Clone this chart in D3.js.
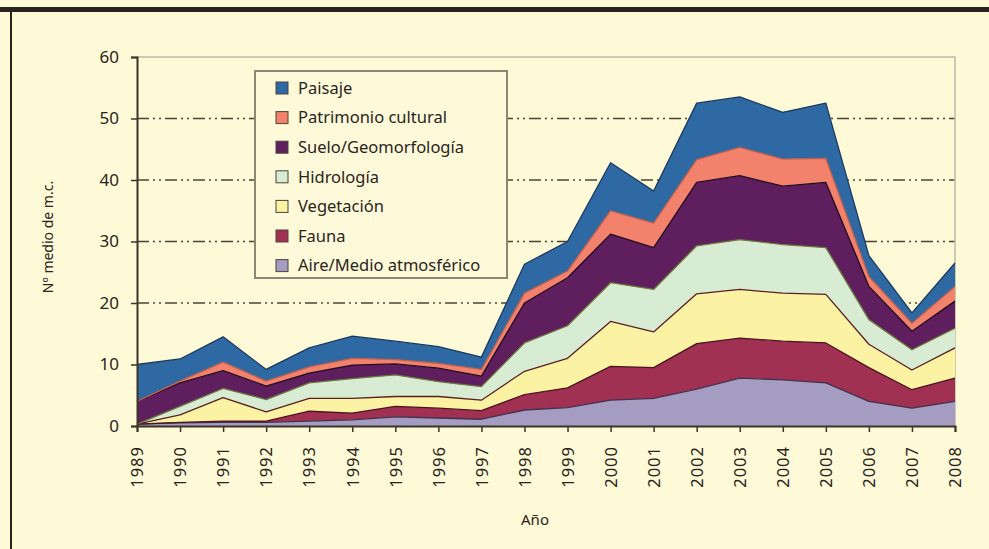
<!DOCTYPE html>
<html>
<head>
<meta charset="utf-8">
<script src="https://cdn.jsdelivr.net/npm/d3@7"></script>
<style>
  html, body { margin: 0; padding: 0; background: #fef9d6; }
  svg { display: block; font-family: "Noto Sans", sans-serif; }
</style>
</head>
<body>
<svg id="chart" width="989" height="549"></svg>
<script>
const years = [1989, 1990, 1991, 1992, 1993, 1994, 1995, 1996, 1997, 1998,
               1999, 2000, 2001, 2002, 2003, 2004, 2005, 2006, 2007, 2008];

// values per layer (bottom to top of the stack)
const aire       = [0.3, 0.5, 0.6, 0.6, 0.8, 1.0, 1.5, 1.3, 1.1, 2.6, 3.0, 4.2, 4.5, 6.0, 7.8, 7.5, 7.0, 4.0, 2.9, 4.0];
const fauna      = [0.0, 0.1, 0.2, 0.2, 1.6, 1.1, 1.7, 1.6, 1.4, 2.5, 3.2, 5.5, 5.0, 7.4, 6.5, 6.3, 6.5, 5.5, 3.0, 3.8];
const vegetacion = [0.0, 1.2, 3.8, 1.5, 2.1, 2.4, 1.6, 1.9, 1.7, 3.8, 4.8, 7.3, 5.8, 8.1, 7.9, 7.8, 7.9, 3.8, 3.2, 4.9];
const hidrologia = [0.0, 1.4, 1.5, 2.0, 2.5, 3.2, 3.5, 2.4, 2.2, 4.6, 5.3, 6.3, 6.9, 7.8, 8.1, 7.9, 7.6, 4.0, 3.3, 3.2];
const suelo      = [3.7, 3.8, 2.9, 2.2, 1.6, 2.2, 1.8, 2.2, 1.7, 6.5, 7.8, 7.9, 6.8, 10.3, 10.4, 9.5, 10.6, 5.4, 3.0, 4.4];
const patrimonio = [0.0, 0.3, 1.4, 0.8, 1.0, 1.1, 0.7, 0.8, 1.1, 1.6, 1.1, 3.8, 4.0, 3.7, 4.6, 4.4, 3.9, 1.6, 1.3, 2.4];
const paisaje    = [6.0, 3.6, 4.1, 1.9, 3.1, 3.6, 3.0, 2.7, 2.0, 4.7, 4.8, 7.8, 5.2, 9.2, 8.2, 7.6, 9.0, 3.4, 1.7, 3.8];

const yTicks = [0, 10, 20, 30, 40, 50, 60];
const gridValues = [20, 30, 40, 50];

const series = [
  { key: "Aire/Medio atmosférico", values: aire,       fill: "#a59cc2", edge: "#43304f" },
  { key: "Fauna",                  values: fauna,      fill: "#a03152", edge: "#4a1420" },
  { key: "Vegetación",             values: vegetacion, fill: "#fbf2a4", edge: "#5a1e22" },
  { key: "Hidrología",             values: hidrologia, fill: "#d7ecd3", edge: "#6d7a3c" },
  { key: "Suelo/Geomorfología",    values: suelo,      fill: "#5f1e5e", edge: "#220a20" },
  { key: "Patrimonio cultural",    values: patrimonio, fill: "#f2826c", edge: "#c0604e" },
  { key: "Paisaje",                values: paisaje,    fill: "#2f69a3", edge: "#1b3a5e" }
];

const table = years.map((yr, i) => {
  const row = { year: yr };
  series.forEach(s => { row[s.key] = s.values[i]; });
  return row;
});

const svg = d3.select("#chart");

// frame: dark top bar and left rule
svg.append("rect").attr("x", 0).attr("y", 7).attr("width", 989).attr("height", 5).attr("fill", "#2a2420");
svg.append("rect").attr("x", 10).attr("y", 7).attr("width", 2).attr("height", 542).attr("fill", "#2a2420");

const x = d3.scalePoint().domain(years).range([137, 955]);
const y = d3.scaleLinear().domain([0, 60]).range([426, 57]);

// grid lines (dash-dot-dot)
svg.append("g")
  .selectAll("line")
  .data(gridValues)
  .join("line")
  .attr("x1", 137).attr("x2", 955)
  .attr("y1", d => y(d)).attr("y2", d => y(d))
  .attr("stroke", "#4b4436")
  .attr("stroke-width", 1.6)
  .attr("stroke-dasharray", "12,4,2,4,2,4");

// plot frame top/right
svg.append("path")
  .attr("d", `M${x(1989)},${y(60)}H${x(2008)}V${y(0)}`)
  .attr("fill", "none")
  .attr("stroke", "#bdb9a8")
  .attr("stroke-width", 1.5);

const stack = d3.stack().keys(series.map(s => s.key));
const layers = stack(table);

const area = d3.area()
  .x(d => x(d.data.year))
  .y0(d => y(d[0]))
  .y1(d => y(d[1]));

const topLine = d3.line()
  .x(d => x(d.data.year))
  .y(d => y(d[1]));

const plot = svg.append("g");
plot.selectAll("path.area")
  .data(layers)
  .join("path")
  .attr("class", "area")
  .attr("d", area)
  .attr("fill", (d, i) => series[i].fill);

plot.selectAll("path.edge")
  .data(layers)
  .join("path")
  .attr("class", "edge")
  .attr("d", topLine)
  .attr("fill", "none")
  .attr("stroke", (d, i) => series[i].edge)
  .attr("stroke-width", 1.3)
  .attr("stroke-linejoin", "round");

// axes
const yAxis = svg.append("g")
  .attr("transform", `translate(${x(1989)},0)`)
  .call(d3.axisLeft(y).tickValues(yTicks).tickSize(6).tickPadding(12));
yAxis.select(".domain").attr("stroke", "#3a3528").attr("stroke-width", 2);
yAxis.selectAll(".tick line").attr("stroke", "#3a3528").attr("stroke-width", 1.5);
yAxis.selectAll("text").attr("font-size", 17).attr("fill", "#2a2420")
  .attr("font-family", "Noto Sans, sans-serif");

const xAxis = svg.append("g")
  .attr("transform", `translate(0,${y(0)})`)
  .call(d3.axisBottom(x).tickSize(6).tickPadding(0));
xAxis.select(".domain").attr("stroke", "#3a3528").attr("stroke-width", 2);
xAxis.selectAll(".tick line").attr("stroke", "#3a3528").attr("stroke-width", 1.5);
xAxis.selectAll("text")
  .attr("font-size", 16.5).attr("fill", "#2a2420")
  .attr("font-family", "Noto Sans, sans-serif")
  .attr("letter-spacing", "1px")
  .attr("text-anchor", "end")
  .attr("dy", "0.35em")
  .attr("transform", "translate(0,20) rotate(-90)")
  .attr("y", 0).attr("x", 0);

// axis titles
svg.append("text")
  .attr("x", 535).attr("y", 525)
  .attr("text-anchor", "middle")
  .attr("font-size", 15).attr("fill", "#2a2420")
  .text("Año");

svg.append("text")
  .attr("transform", "translate(53,237) rotate(-90)")
  .attr("text-anchor", "middle")
  .attr("font-size", 14).attr("fill", "#2a2420")
  .text("Nº medio de m.c.");

// legend
const legend = svg.append("g").attr("transform", "translate(255,71)");
legend.append("rect")
  .attr("width", 252).attr("height", 207)
  .attr("fill", "#fefad9")
  .attr("stroke", "#8c8675").attr("stroke-width", 2);

const legendItems = legend.selectAll("g.item")
  .data(series.slice().reverse())
  .join("g")
  .attr("class", "item")
  .attr("transform", (d, i) => `translate(21,${17 + i * 29.6})`);

legendItems.append("rect")
  .attr("x", 0).attr("y", -6)
  .attr("width", 12).attr("height", 12)
  .attr("fill", d => d.fill)
  .attr("stroke", "#4a4438").attr("stroke-width", 1);

legendItems.append("text")
  .attr("x", 22).attr("y", 0)
  .attr("dy", "0.35em")
  .attr("font-size", 16.5).attr("fill", "#2a2420")
  .text(d => d.key);
</script>
</body>
</html>
